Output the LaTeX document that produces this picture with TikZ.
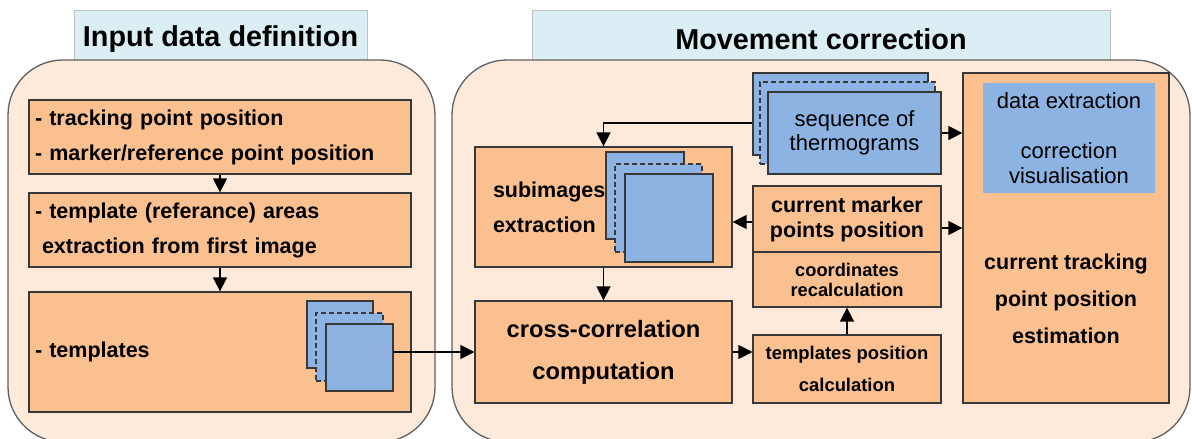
\documentclass[tikz,border=0pt]{standalone}
\usepackage{fontspec}
\setmainfont{Liberation Sans}
\usepackage{tikz}
\definecolor{boxorange}{RGB}{250, 192, 144}
\definecolor{panelpeach}{RGB}{253, 234, 218}
\definecolor{imgblue}{RGB}{141, 179, 226}
\definecolor{headblue}{RGB}{218, 238, 243}
\definecolor{edgegray}{RGB}{56, 56, 56}
\usetikzlibrary{arrows.meta, positioning, calc}

\begin{document}
\begin{tikzpicture}[
    x=1pt, y=-1pt,
    panel/.style={rectangle, draw=gray!75!black, line width=1.3pt, fill=panelpeach, rounded corners=55pt},
    headbox/.style={rectangle, draw=gray!50, line width=1pt, fill=headblue, font=\bfseries\fontsize{28.8}{32}\selectfont},
    stepbox/.style={rectangle, draw=edgegray, line width=1.3pt, fill=boxorange, inner xsep=6pt, inner ysep=0pt, font=\bfseries\fontsize{21.5}{35}\selectfont},
    imgbox/.style={rectangle, draw=edgegray, line width=1.3pt, fill=imgblue, inner sep=0pt},
    arrow/.style={-{Triangle[length=14pt, width=14pt]}, line width=1.5pt, black}
]
    \useasboundingbox (0,0) rectangle (1192,439);

    \node[headbox, minimum width=293pt, minimum height=58pt] (inhead) at (220.5,39) {Input data definition};
    \node[headbox, minimum width=578pt, minimum height=58pt] (movhead) at (821,39) {Movement correction};

    \node[panel, minimum width=427pt, minimum height=382pt] (inpanel) at (221.5,251) {};
    \node[panel, minimum width=738pt, minimum height=382pt] (movpanel) at (821,251) {};

    % input data definition
    \node[stepbox, minimum width=382pt, minimum height=74pt, text width=370pt, align=left] (points) at (220,137) {- tracking point position\\- marker/reference point position};
    \node[stepbox, minimum width=382pt, minimum height=74pt, text width=370pt, align=left] (areas) at (220,230) {- template (referance) areas\\\hspace*{7pt}extraction from first image};
    \node[stepbox, minimum width=382pt, minimum height=120pt, text width=370pt, align=left] (templates) at (220,352) {- templates};

    \node[imgbox, minimum width=66pt, minimum height=67pt] (tback) at (340,334.5) {};
    \node[imgbox, dash pattern=on 5pt off 3pt, minimum width=67pt, minimum height=68pt] (tmid) at (349.5,347) {};
    \node[imgbox, minimum width=67pt, minimum height=67pt] (tfront) at (359.5,357.5) {};

    % movement correction
    \node[stepbox, minimum width=257pt, minimum height=120pt, inner xsep=18pt, text width=221pt, align=left] (subimg) at (603.5,207) {subimages\\extraction};

    \node[imgbox, minimum width=78pt, minimum height=87pt] (sback) at (645,195.5) {};
    \node[imgbox, dash pattern=on 5pt off 3pt, minimum width=87pt, minimum height=88pt] (smid) at (658.5,208) {};
    \node[imgbox, minimum width=88pt, minimum height=88pt] (sfront) at (669,218) {};

    \node[stepbox, minimum width=257pt, minimum height=102pt, align=center, font=\bfseries\fontsize{23.7}{42}\selectfont] (xcorr) at (603.5,352) {cross-correlation\\computation};

    \node[imgbox, minimum width=175pt, minimum height=82pt] (thback) at (840.5,114) {};
    \node[imgbox, dash pattern=on 5pt off 3pt, minimum width=175pt, minimum height=82pt] (thmid) at (847.5,123) {};
    \node[imgbox, minimum width=173pt, minimum height=82pt, align=center, font=\fontsize{22}{24}\selectfont] (thfront) at (854.5,133) {sequence of\\thermograms};

    \node[stepbox, minimum width=188pt, minimum height=66pt, align=center, font=\bfseries\fontsize{21.5}{25}\selectfont] (marker) at (847,219) {current marker\\points position};
    \node[stepbox, minimum width=188pt, minimum height=55pt, align=center, font=\bfseries\fontsize{18.3}{20}\selectfont] (coords) at (847,279.5) {coordinates\\recalculation};
    \node[stepbox, minimum width=188pt, minimum height=68pt, align=center, font=\bfseries\fontsize{18.4}{32}\selectfont] (tpos) at (847,369) {templates position\\calculation};

    \node[stepbox, minimum width=206pt, minimum height=330pt] (estim) at (1066,238) {};
    \node[imgbox, draw=none, minimum width=172pt, minimum height=110pt, align=center, font=\fontsize{22}{25}\selectfont] (extract) at (1069,138) {data extraction\\[25pt]correction\\visualisation};
    \node[align=center, font=\bfseries\fontsize{21.5}{37}\selectfont] (estimlbl) at (1066,299) {current tracking\\point position\\estimation};

    % connections
    \draw[arrow] (points) -- (areas);
    \draw[arrow] (areas) -- (templates);
    \draw[arrow] (tfront.east |- xcorr.west) -- (xcorr.west);
    \draw[arrow] (thback.west |- thmid.west) -| (subimg.north);
    \draw[arrow] (thfront.east) -- (thfront.east -| estim.west);
    \draw[arrow] (subimg) -- (xcorr);
    \draw[arrow] (xcorr.east) -- (xcorr.east -| tpos.west);
    \draw[arrow] (tpos) -- (coords);
    \draw[arrow] ([yshift=-3pt]marker.west) -- ([yshift=-3pt]marker.west -| subimg.east);
    \draw[arrow] ([yshift=-9pt]marker.east) -- ([yshift=-9pt]marker.east -| estim.west);
\end{tikzpicture}
\end{document}
